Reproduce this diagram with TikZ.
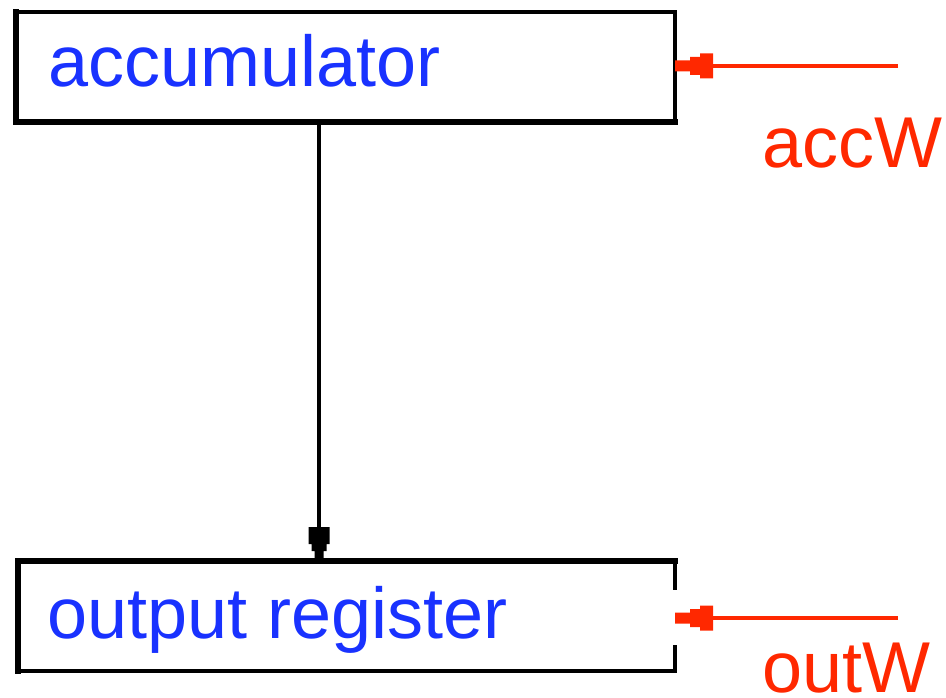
\documentclass[tikz,border=0pt]{standalone}
\usepackage{fontspec}
\setmainfont{Liberation Sans}
\usetikzlibrary{arrows.meta}
\definecolor{regblue}{RGB}{25,50,255}
\definecolor{ctlred}{RGB}{255,40,0}

% stepped arrow tip of three blocks, used on the control lines
\pgfdeclarearrow{
  name=StepTip,
  parameters={step},
  setup code={
    \pgfarrowssettipend{0pt}
    \pgfarrowssetlineend{-30pt}
    \pgfarrowssetbackend{-38pt}
    \pgfarrowsupperhullpoint{-38pt}{12.5pt}
    \pgfarrowsupperhullpoint{0pt}{5.5pt}
  },
  drawing code={
    \pgfpathmoveto{\pgfpoint{0pt}{5.5pt}}
    \pgfpathlineto{\pgfpoint{-15pt}{5.5pt}}
    \pgfpathlineto{\pgfpoint{-15pt}{9pt}}
    \pgfpathlineto{\pgfpoint{-25pt}{9pt}}
    \pgfpathlineto{\pgfpoint{-25pt}{12.5pt}}
    \pgfpathlineto{\pgfpoint{-38pt}{12.5pt}}
    \pgfpathlineto{\pgfpoint{-38pt}{-12.5pt}}
    \pgfpathlineto{\pgfpoint{-25pt}{-12.5pt}}
    \pgfpathlineto{\pgfpoint{-25pt}{-9pt}}
    \pgfpathlineto{\pgfpoint{-15pt}{-9pt}}
    \pgfpathlineto{\pgfpoint{-15pt}{-5.5pt}}
    \pgfpathlineto{\pgfpoint{0pt}{-5.5pt}}
    \pgfpathclose
    \pgfusepathqfill
  }
}
% stepped arrow tip on the data path
\pgfdeclarearrow{
  name=BlockTip,
  parameters={block},
  setup code={
    \pgfarrowssettipend{0pt}
    \pgfarrowssetlineend{-25pt}
    \pgfarrowssetbackend{-34pt}
    \pgfarrowsupperhullpoint{-34pt}{10.5pt}
    \pgfarrowsupperhullpoint{0pt}{4.5pt}
  },
  drawing code={
    \pgfpathmoveto{\pgfpoint{0pt}{4.5pt}}
    \pgfpathlineto{\pgfpoint{-10pt}{4.5pt}}
    \pgfpathlineto{\pgfpoint{-10pt}{7.5pt}}
    \pgfpathlineto{\pgfpoint{-17pt}{7.5pt}}
    \pgfpathlineto{\pgfpoint{-17pt}{10.5pt}}
    \pgfpathlineto{\pgfpoint{-34pt}{10.5pt}}
    \pgfpathlineto{\pgfpoint{-34pt}{-10.5pt}}
    \pgfpathlineto{\pgfpoint{-17pt}{-10.5pt}}
    \pgfpathlineto{\pgfpoint{-17pt}{-7.5pt}}
    \pgfpathlineto{\pgfpoint{-10pt}{-7.5pt}}
    \pgfpathlineto{\pgfpoint{-10pt}{-4.5pt}}
    \pgfpathlineto{\pgfpoint{0pt}{-4.5pt}}
    \pgfpathclose
    \pgfusepathqfill
  }
}

\tikzset{
  regbox/.style={draw=none, rectangle, inner sep=0pt, outer sep=0pt},
  reglabel/.style={text=regblue, font=\fontsize{72}{80}\selectfont, anchor=base west, inner sep=0pt},
  ctllabel/.style={text=ctlred, font=\fontsize{72}{80}\selectfont, anchor=base west, inner sep=0pt},
  edge/.style={line width=3.5pt, line cap=rect},
  thickedge/.style={line width=6.5pt, line cap=rect},
  ctlarrow/.style={ctlred, line width=3.5pt, -StepTip},
  dataarrow/.style={black, line width=3.5pt, -BlockTip}
}
\begin{document}
\begin{tikzpicture}[x=1pt,y=-1pt]
  \useasboundingbox (0,0) rectangle (946,698);

  % accumulator register
  \node[regbox, minimum width=659pt, minimum height=110pt] (acc) at (345.5,67) {};
  \draw[edge] (acc.north west) -- (acc.north east) -- (acc.south east);
  \draw[thickedge] (acc.north west) -- (acc.south west) -- (acc.south east);
  \node[reglabel] (acclabel) at (48,87) {accumulator};

  % output register, right side open where outW enters
  \node[regbox, minimum width=657pt, minimum height=110pt] (out) at (346.5,616) {};
  \draw[thickedge] (out.south west) -- (out.north west) -- (out.north east);
  \draw[edge] (out.north east) -- (out.north east |- 0,588);
  \draw[edge] (out.north east |- 0,647) -- (out.south east) -- (out.south west);
  \node[reglabel] (outlabel) at (47,638) {output register};

  % data path
  \draw[dataarrow] (acc.south -| 319,0) -- (out.north -| 319,0);

  % write-enable controls
  \coordinate (accWsrc) at (898,66);
  \coordinate (outWsrc) at (898,618);
  \draw[ctlarrow] (accWsrc) -- (acc.east |- accWsrc);
  \draw[ctlarrow] (outWsrc) -- (out.east |- outWsrc);
  \node[ctllabel] (accW) at (762,168) {accW};
  \node[ctllabel] (outW) at (762,692) {outW};
\end{tikzpicture}
\end{document}
